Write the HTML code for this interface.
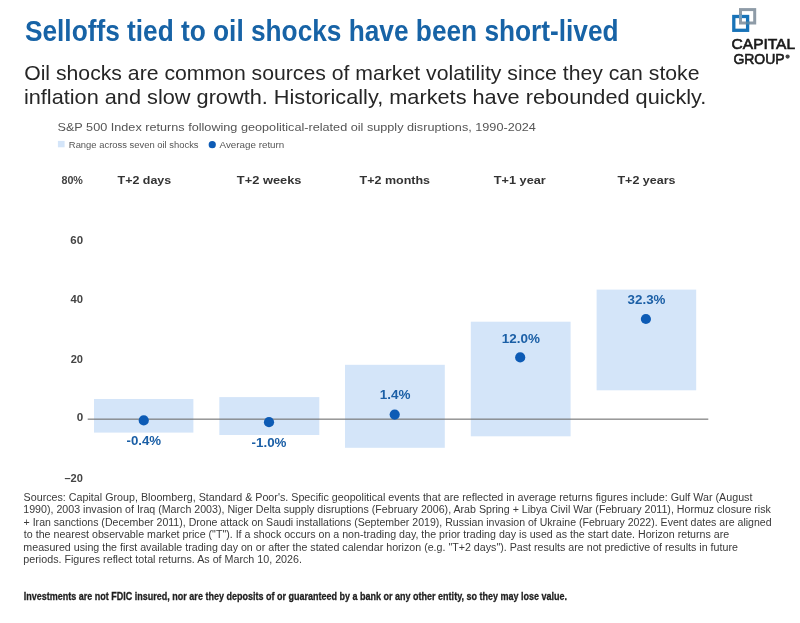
<!DOCTYPE html>
<html><head><meta charset="utf-8"><style>
html,body{margin:0;padding:0;background:#fff;width:800px;height:623px;overflow:hidden}
svg{display:block;will-change:transform}
text{font-family:"Liberation Sans",sans-serif}
</style></head><body>
<svg width="800" height="623" viewBox="0 0 800 623">
<rect width="800" height="623" fill="#fff"/>
<rect x="94" y="399" width="99.40" height="33.60" fill="#d4e5f9"/>
<rect x="219.3" y="397.1" width="100.00" height="37.90" fill="#d4e5f9"/>
<rect x="345" y="364.8" width="99.80" height="83.00" fill="#d4e5f9"/>
<rect x="470.8" y="321.7" width="99.80" height="114.60" fill="#d4e5f9"/>
<rect x="596.6" y="289.6" width="99.60" height="100.70" fill="#d4e5f9"/>
<rect x="87.7" y="418.6" width="620.6" height="1.1" fill="#6f6f6f"/>
<circle cx="143.75" cy="420.4" r="5.1" fill="#0d5bb5"/>
<circle cx="269" cy="422.2" r="5.1" fill="#0d5bb5"/>
<circle cx="394.7" cy="414.6" r="5.1" fill="#0d5bb5"/>
<circle cx="520.2" cy="357.4" r="5.1" fill="#0d5bb5"/>
<circle cx="645.9" cy="319" r="5.1" fill="#0d5bb5"/>
<rect x="57.9" y="140.9" width="6.7" height="6.4" fill="#d4e5f9"/>
<circle cx="212.25" cy="144.7" r="3.6" fill="#0d5bb5"/>
<rect x="740.5" y="9.6" width="14.2" height="13.4" fill="none" stroke="#8e9ba7" stroke-width="3"/>
<rect x="733.8" y="16.5" width="13.8" height="13.8" fill="none" stroke="#1873b8" stroke-width="3.3"/>
<rect x="739" y="14.85" width="3" height="3.3" fill="#6f9cc0"/>
<rect x="745.95" y="21.5" width="3.3" height="3" fill="#4f86a8"/>
<text x="24.98" y="40.50" font-size="29.5" font-weight="bold" fill="#1763a6" textLength="593.62" lengthAdjust="spacingAndGlyphs">Selloffs tied to oil shocks have been short-lived</text>
<text x="24.15" y="80.20" font-size="21" font-weight="normal" fill="#262626" textLength="675.36" lengthAdjust="spacingAndGlyphs">Oil shocks are common sources of market volatility since they can stoke</text>
<text x="23.90" y="104.30" font-size="21" font-weight="normal" fill="#262626" textLength="682.51" lengthAdjust="spacingAndGlyphs">inflation and slow growth. Historically, markets have rebounded quickly.</text>
<text x="57.49" y="130.70" font-size="11.6" font-weight="normal" fill="#555" textLength="478.34" lengthAdjust="spacingAndGlyphs">S&amp;P 500 Index returns following geopolitical-related oil supply disruptions, 1990-2024</text>
<text x="68.85" y="147.80" font-size="9.2" font-weight="normal" fill="#555" textLength="129.74" lengthAdjust="spacingAndGlyphs">Range across seven oil shocks</text>
<text x="219.60" y="147.80" font-size="9.2" font-weight="normal" fill="#555" textLength="64.70" lengthAdjust="spacingAndGlyphs">Average return</text>
<text x="117.58" y="184.30" font-size="11.6" font-weight="bold" fill="#333" textLength="53.62" lengthAdjust="spacingAndGlyphs">T+2 days</text>
<text x="236.87" y="184.30" font-size="11.6" font-weight="bold" fill="#333" textLength="64.59" lengthAdjust="spacingAndGlyphs">T+2 weeks</text>
<text x="359.58" y="184.30" font-size="11.6" font-weight="bold" fill="#333" textLength="70.48" lengthAdjust="spacingAndGlyphs">T+2 months</text>
<text x="493.87" y="184.30" font-size="11.6" font-weight="bold" fill="#333" textLength="51.84" lengthAdjust="spacingAndGlyphs">T+1 year</text>
<text x="617.48" y="184.30" font-size="11.6" font-weight="bold" fill="#333" textLength="57.98" lengthAdjust="spacingAndGlyphs">T+2 years</text>
<text x="61.43" y="184.30" font-size="10.2" font-weight="bold" fill="#444" textLength="21.48" lengthAdjust="spacingAndGlyphs">80%</text>
<text x="70.36" y="243.70" font-size="10.2" font-weight="bold" fill="#444" textLength="12.76" lengthAdjust="spacingAndGlyphs">60</text>
<text x="70.59" y="303.40" font-size="10.2" font-weight="bold" fill="#444" textLength="12.52" lengthAdjust="spacingAndGlyphs">40</text>
<text x="70.67" y="362.90" font-size="10.2" font-weight="bold" fill="#444" textLength="12.33" lengthAdjust="spacingAndGlyphs">20</text>
<text x="76.75" y="421.40" font-size="10.2" font-weight="bold" fill="#444" textLength="6.47" lengthAdjust="spacingAndGlyphs">0</text>
<text x="64.47" y="482.10" font-size="10.2" font-weight="bold" fill="#444" textLength="18.43" lengthAdjust="spacingAndGlyphs">–20</text>
<text x="126.50" y="445.00" font-size="12.5" font-weight="bold" fill="#1b5fa6" textLength="34.65" lengthAdjust="spacingAndGlyphs">-0.4%</text>
<text x="251.60" y="446.60" font-size="12.5" font-weight="bold" fill="#1b5fa6" textLength="34.91" lengthAdjust="spacingAndGlyphs">-1.0%</text>
<text x="379.79" y="399.30" font-size="12.5" font-weight="bold" fill="#1b5fa6" textLength="30.72" lengthAdjust="spacingAndGlyphs">1.4%</text>
<text x="501.89" y="342.60" font-size="12.5" font-weight="bold" fill="#1b5fa6" textLength="38.17" lengthAdjust="spacingAndGlyphs">12.0%</text>
<text x="627.63" y="303.60" font-size="12.5" font-weight="bold" fill="#1b5fa6" textLength="37.82" lengthAdjust="spacingAndGlyphs">32.3%</text>
<text x="23.57" y="500.90" font-size="10" font-weight="normal" fill="#3a3a3a" textLength="728.91" lengthAdjust="spacingAndGlyphs">Sources: Capital Group, Bloomberg, Standard &amp; Poor&#x27;s. Specific geopolitical events that are reflected in average returns figures include: Gulf War (August</text>
<text x="23.26" y="513.40" font-size="10" font-weight="normal" fill="#3a3a3a" textLength="747.64" lengthAdjust="spacingAndGlyphs">1990), 2003 invasion of Iraq (March 2003), Niger Delta supply disruptions (February 2006), Arab Spring + Libya Civil War (February 2011), Hormuz closure risk</text>
<text x="23.58" y="525.90" font-size="10" font-weight="normal" fill="#3a3a3a" textLength="748.02" lengthAdjust="spacingAndGlyphs">+ Iran sanctions (December 2011), Drone attack on Saudi installations (September 2019), Russian invasion of Ukraine (February 2022). Event dates are aligned</text>
<text x="23.89" y="538.30" font-size="10" font-weight="normal" fill="#3a3a3a" textLength="705.29" lengthAdjust="spacingAndGlyphs">to the nearest observable market price (&quot;T&quot;). If a shock occurs on a non-trading day, the prior trading day is used as the start date. Horizon returns are</text>
<text x="23.36" y="550.80" font-size="10" font-weight="normal" fill="#3a3a3a" textLength="714.53" lengthAdjust="spacingAndGlyphs">measured using the first available trading day on or after the stated calendar horizon (e.g. &quot;T+2 days&quot;). Past results are not predictive of results in future</text>
<text x="23.36" y="563.30" font-size="10" font-weight="normal" fill="#3a3a3a" textLength="278.58" lengthAdjust="spacingAndGlyphs">periods. Figures reflect total returns. As of March 10, 2026.</text>
<text x="23.71" y="600.30" font-size="11.2" font-weight="bold" fill="#1e1e1e" stroke="#1e1e1e" stroke-width="0.3" textLength="543.40" lengthAdjust="spacingAndGlyphs">Investments are not FDIC insured, nor are they deposits of or guaranteed by a bank or any other entity, so they may lose value.</text>
<text x="731.62" y="48.90" font-size="14.2" font-weight="normal" fill="#1a1a1a" stroke="#1a1a1a" stroke-width="0.6" textLength="63.48" lengthAdjust="spacingAndGlyphs">CAPITAL</text>
<text x="733.40" y="64.20" font-size="14.2" font-weight="normal" fill="#1a1a1a" stroke="#1a1a1a" stroke-width="0.6" textLength="51.26" lengthAdjust="spacingAndGlyphs">GROUP</text>
<circle cx="787.6" cy="56.6" r="2.1" fill="#444"/>
</svg>
</body></html>
